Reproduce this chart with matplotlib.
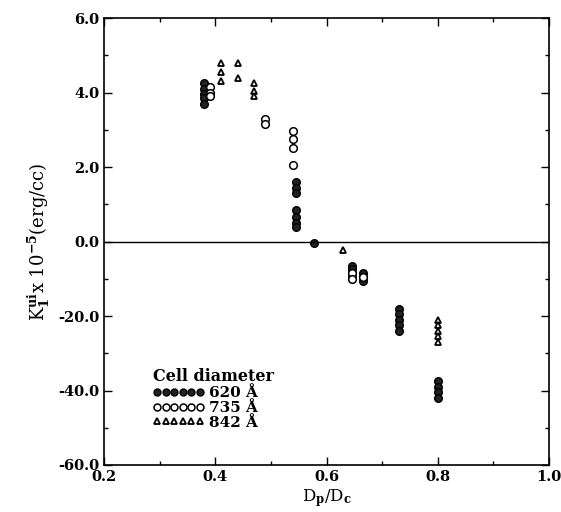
import numpy as np
import matplotlib
matplotlib.use('Agg')
import matplotlib.pyplot as plt
from matplotlib.lines import Line2D

## 数据：Dp/Dc 与各向异性常数 (正值单位 1e5 erg/cc，负值轴压缩10倍)

x620 = [0.38, 0.38, 0.38, 0.38, 0.38,
        0.545, 0.545, 0.545, 0.545, 0.545, 0.545, 0.545,
        0.578,
        0.645, 0.645, 0.645, 0.645,
        0.665, 0.665, 0.665,
        0.73, 0.73, 0.73, 0.73, 0.73,
        0.80, 0.80, 0.80, 0.80]
y620 = [4.25, 4.1, 3.95, 3.85, 3.7,
        1.6, 1.45, 1.3, 0.85, 0.65, 0.5, 0.4,
        -0.5,
        -6.5, -7.5, -8.5, -9.5,
        -8.5, -9.5, -10.5,
        -18.0, -19.5, -21.0, -22.5, -24.0,
        -37.5, -39.0, -40.5, -42.0]

x735 = [0.39, 0.39, 0.39,
        0.49, 0.49,
        0.54, 0.54, 0.54, 0.54,
        0.645, 0.645,
        0.665]
y735 = [4.15, 4.0, 3.9,
        3.3, 3.15,
        2.97, 2.76, 2.5, 2.05,
        -8.5, -10.0,
        -9.5]

x842 = [0.41, 0.41, 0.41,
        0.44, 0.44,
        0.47, 0.47, 0.47,
        0.63,
        0.80, 0.80, 0.80, 0.80, 0.80]
y842 = [4.8, 4.55, 4.3,
        4.8, 4.4,
        4.25, 4.05, 3.9,
        -2.2,
        -21.0, -22.5, -24.0, -25.5, -27.0]

yticks = [-60, -40, -20, 0, 2, 4, 6]
xticks = [0.2, 0.4, 0.6, 0.8, 1.0]

plt.rcParams['font.family'] = 'DejaVu Serif'
plt.rcParams['font.weight'] = 'bold'
plt.rcParams['mathtext.fontset'] = 'dejavuserif'
plt.rcParams['mathtext.default'] = 'bf'

## 正半轴原样，负半轴压缩10倍
def fwd(y):
    y = np.asarray(y, dtype=float)
    return np.where(y >= 0, y, y / 10.0)

def inv(u):
    u = np.asarray(u, dtype=float)
    return np.where(u >= 0, u, u * 10.0)

fig = plt.figure(figsize=(5.61, 5.12), dpi=100)
ax = fig.add_axes([0.1854, 0.0918, 0.7932, 0.873])
ax.set_yscale('function', functions=(fwd, inv))

ax.plot(x620, y620, 'o', ms=5.5, mfc='#222222', mec='black', mew=1.0, ls='none')
ax.plot(x735, y735, 'o', ms=5.5, mfc='white', mec='black', mew=1.1, ls='none')
ax.plot(x842, y842, '^', ms=5, mfc='white', mec='black', mew=1.3, ls='none')

ax.axhline(0, color='black', lw=1.0)

ax.set_xlim(0.2, 1.0)
ax.set_ylim(-60, 6)
ax.set_xticks(xticks)
ax.set_xticklabels(['%.1f' % v for v in xticks])
ax.set_yticks(yticks)
ax.set_yticklabels(['%.1f' % v for v in yticks])
ax.set_xticks([0.3, 0.5, 0.7, 0.9], minor=True)
ax.set_yticks([-50, -30, -10, 1, 3, 5], minor=True)
ax.tick_params(which='both', direction='in', top=True, right=True,
               labelsize=10.5, width=1.0)
ax.tick_params(which='major', length=6)
ax.tick_params(which='minor', length=3)
for s in ax.spines.values():
    s.set_linewidth(1.2)

ax.set_xlabel(r'D$_\mathbf{p}$/D$_\mathbf{c}$', fontsize=12, labelpad=2)
ax.set_ylabel(r'K$_1^{\mathbf{ui}}$x 10$^{-5}$(erg/cc)', fontsize=13)

## 图例
handles = [
    Line2D([], [], marker='o', ls='none', ms=5, mfc='#222222', mec='black'),
    Line2D([], [], marker='o', ls='none', ms=5, mfc='white', mec='black', mew=1.1),
    Line2D([], [], marker='^', ls='none', ms=4.5, mfc='white', mec='black', mew=1.3),
]
leg = ax.legend(handles, ['620 Å', '735 Å', '842 Å'], title='Cell diameter',
                loc='upper left', bbox_to_anchor=(0.085, 0.24), frameon=False,
                numpoints=6, handlelength=3.4, handletextpad=0.3,
                labelspacing=0.05, fontsize=11, title_fontsize=11.5,
                alignment='left', borderpad=0.2)
leg.get_title().set_fontweight('bold')

fig.savefig('out.png', dpi=100)
